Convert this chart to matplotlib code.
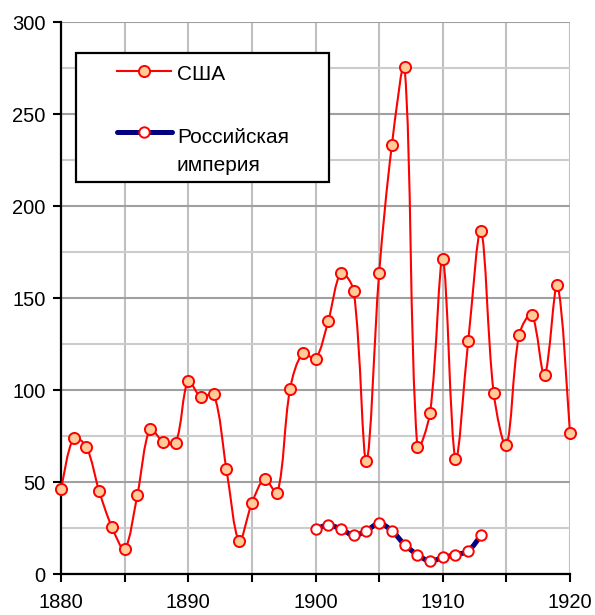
import numpy as np
import matplotlib.pyplot as plt
from matplotlib.path import Path
from matplotlib.patches import PathPatch, Rectangle
from matplotlib.lines import Line2D
from matplotlib.ticker import MultipleLocator

plt.rcParams['font.family'] = ['Liberation Sans', 'DejaVu Sans']

# годовые значения
years_usa = list(range(1880, 1921))
usa = [46, 74, 69, 45, 25.5, 13.5, 43, 79, 72, 71,
       105, 96, 98, 57, 18, 38.5, 51.5, 44, 100.5, 120,
       117, 137.5, 163.5, 154, 61.5, 163.5, 233, 275.5, 69, 87.5,
       171, 62.5, 126.5, 186.5, 98.5, 70, 130, 141, 108, 157,
       76.5]

years_rus = list(range(1900, 1914))
rus = [24.5, 26.5, 24.5, 21, 23.5, 27.5, 23.5, 16, 10.5, 7,
       9, 10.5, 12.5, 21]

label_usa = 'США'
label_rus = ['Российская', 'империя']

W, H = 595, 615
AX_L, AX_R, AX_T, AX_B = 61, 570, 22, 574


def smooth_path(x, y, sx, sy):
    # сглаживание: кривые Безье, плечи пропорциональны длине соседних отрезков
    pts = np.column_stack([np.asarray(x, float) * sx, np.asarray(y, float) * sy])
    n = len(pts)
    tang = np.zeros_like(pts)
    for i in range(n):
        a = pts[max(i - 1, 0)]
        b = pts[min(i + 1, n - 1)]
        tang[i] = b - a
    verts = [pts[0]]
    codes = [Path.MOVETO]
    for i in range(n - 1):
        p1, p2 = pts[i], pts[i + 1]
        d12 = np.hypot(*(p2 - p1))
        d01 = np.hypot(*(p1 - pts[max(i - 1, 0)])) if i > 0 else d12
        d23 = np.hypot(*(pts[min(i + 2, n - 1)] - p2)) if i + 2 < n else d12
        c1 = p1 + tang[i] * d12 / (d01 + d12) / 3
        c2 = p2 - tang[i + 1] * d12 / (d12 + d23) / 3
        verts += [c1, c2, p2]
        codes += [Path.CURVE4] * 3
    verts = np.array(verts) / [sx, sy]
    return Path(verts, codes)


fig = plt.figure(figsize=(W / 100, H / 100), dpi=100)
ax = fig.add_axes([AX_L / W, (H - AX_B) / H, (AX_R - AX_L) / W, (AX_B - AX_T) / H])

ax.set_xlim(1880, 1920)
ax.set_ylim(0, 300)
sx = (AX_R - AX_L) / 40
sy = (AX_B - AX_T) / 300

# сетка
ax.set_xticks(range(1880, 1921, 5))
ax.set_xticklabels([str(y) if y % 10 == 0 else '' for y in range(1880, 1921, 5)])
ax.yaxis.set_major_locator(MultipleLocator(50))
ax.yaxis.set_minor_locator(MultipleLocator(25))
ax.grid(axis='x', which='major', color='#C0C0C0', lw=1.5)
ax.grid(axis='y', which='major', color='#A0A0A0', lw=1.5)
ax.grid(axis='y', which='minor', color='#CCCCCC', lw=1.5)
ax.set_axisbelow(True)

for s in ['top', 'right']:
    ax.spines[s].set_visible(False)
for s in ['left', 'bottom']:
    ax.spines[s].set_linewidth(1.6)
    ax.spines[s].set_color('black')

ax.tick_params(which='major', direction='out', length=6, width=1.5, labelsize=14.5)
ax.tick_params(axis='x', pad=8)
ax.tick_params(axis='y', pad=5)
ax.tick_params(which='minor', length=0)

# США
ax.add_patch(PathPatch(smooth_path(years_usa, usa, sx, sy), fill=False, edgecolor='red',
                       lw=1.5, clip_on=False, zorder=3))
ax.plot(years_usa, usa, ls='none', marker='o', ms=8, mfc='#FFCC99', mec='red',
        mew=1.4, clip_on=False, zorder=4)

# Российская империя
ax.add_patch(PathPatch(smooth_path(years_rus, rus, sx, sy), fill=False, edgecolor='#000080',
                       lw=3.6, capstyle='round', joinstyle='round', clip_on=False, zorder=3))
ax.plot(years_rus, rus, ls='none', marker='o', ms=7.5, mfc='white', mec='red',
        mew=1.4, clip_on=False, zorder=4)


# легенда (рамка, линии и подписи в пикселях фигуры)
def fx(px):
    return px / W


def fy(py):
    return 1 - py / H


fig.add_artist(Rectangle((fx(76), fy(182)), fx(329) - fx(76), fy(53) - fy(182),
                         transform=fig.transFigure, facecolor='white',
                         edgecolor='black', lw=1.6, zorder=5))
fig.add_artist(Line2D([fx(117), fx(171)], [fy(71), fy(71)], color='red', lw=1.5,
                      transform=fig.transFigure, zorder=6))
fig.add_artist(Line2D([fx(144)], [fy(71)], ls='none', marker='o', ms=8, mfc='#FFCC99',
                      mec='red', mew=1.4, transform=fig.transFigure, zorder=7))
fig.add_artist(Line2D([fx(117), fx(172)], [fy(132), fy(132)], color='#000080', lw=3.6,
                      solid_capstyle='round', transform=fig.transFigure, zorder=6))
fig.add_artist(Line2D([fx(144)], [fy(132)], ls='none', marker='o', ms=7.5, mfc='white',
                      mec='red', mew=1.4, transform=fig.transFigure, zorder=7))
fig.text(fx(177), fy(80), label_usa, fontsize=15, va='baseline', zorder=7)
fig.text(fx(177), fy(143), label_rus[0], fontsize=15, va='baseline', zorder=7)
fig.text(fx(177), fy(171), label_rus[1], fontsize=15, va='baseline', zorder=7)

fig.savefig('out.png', dpi=100)
